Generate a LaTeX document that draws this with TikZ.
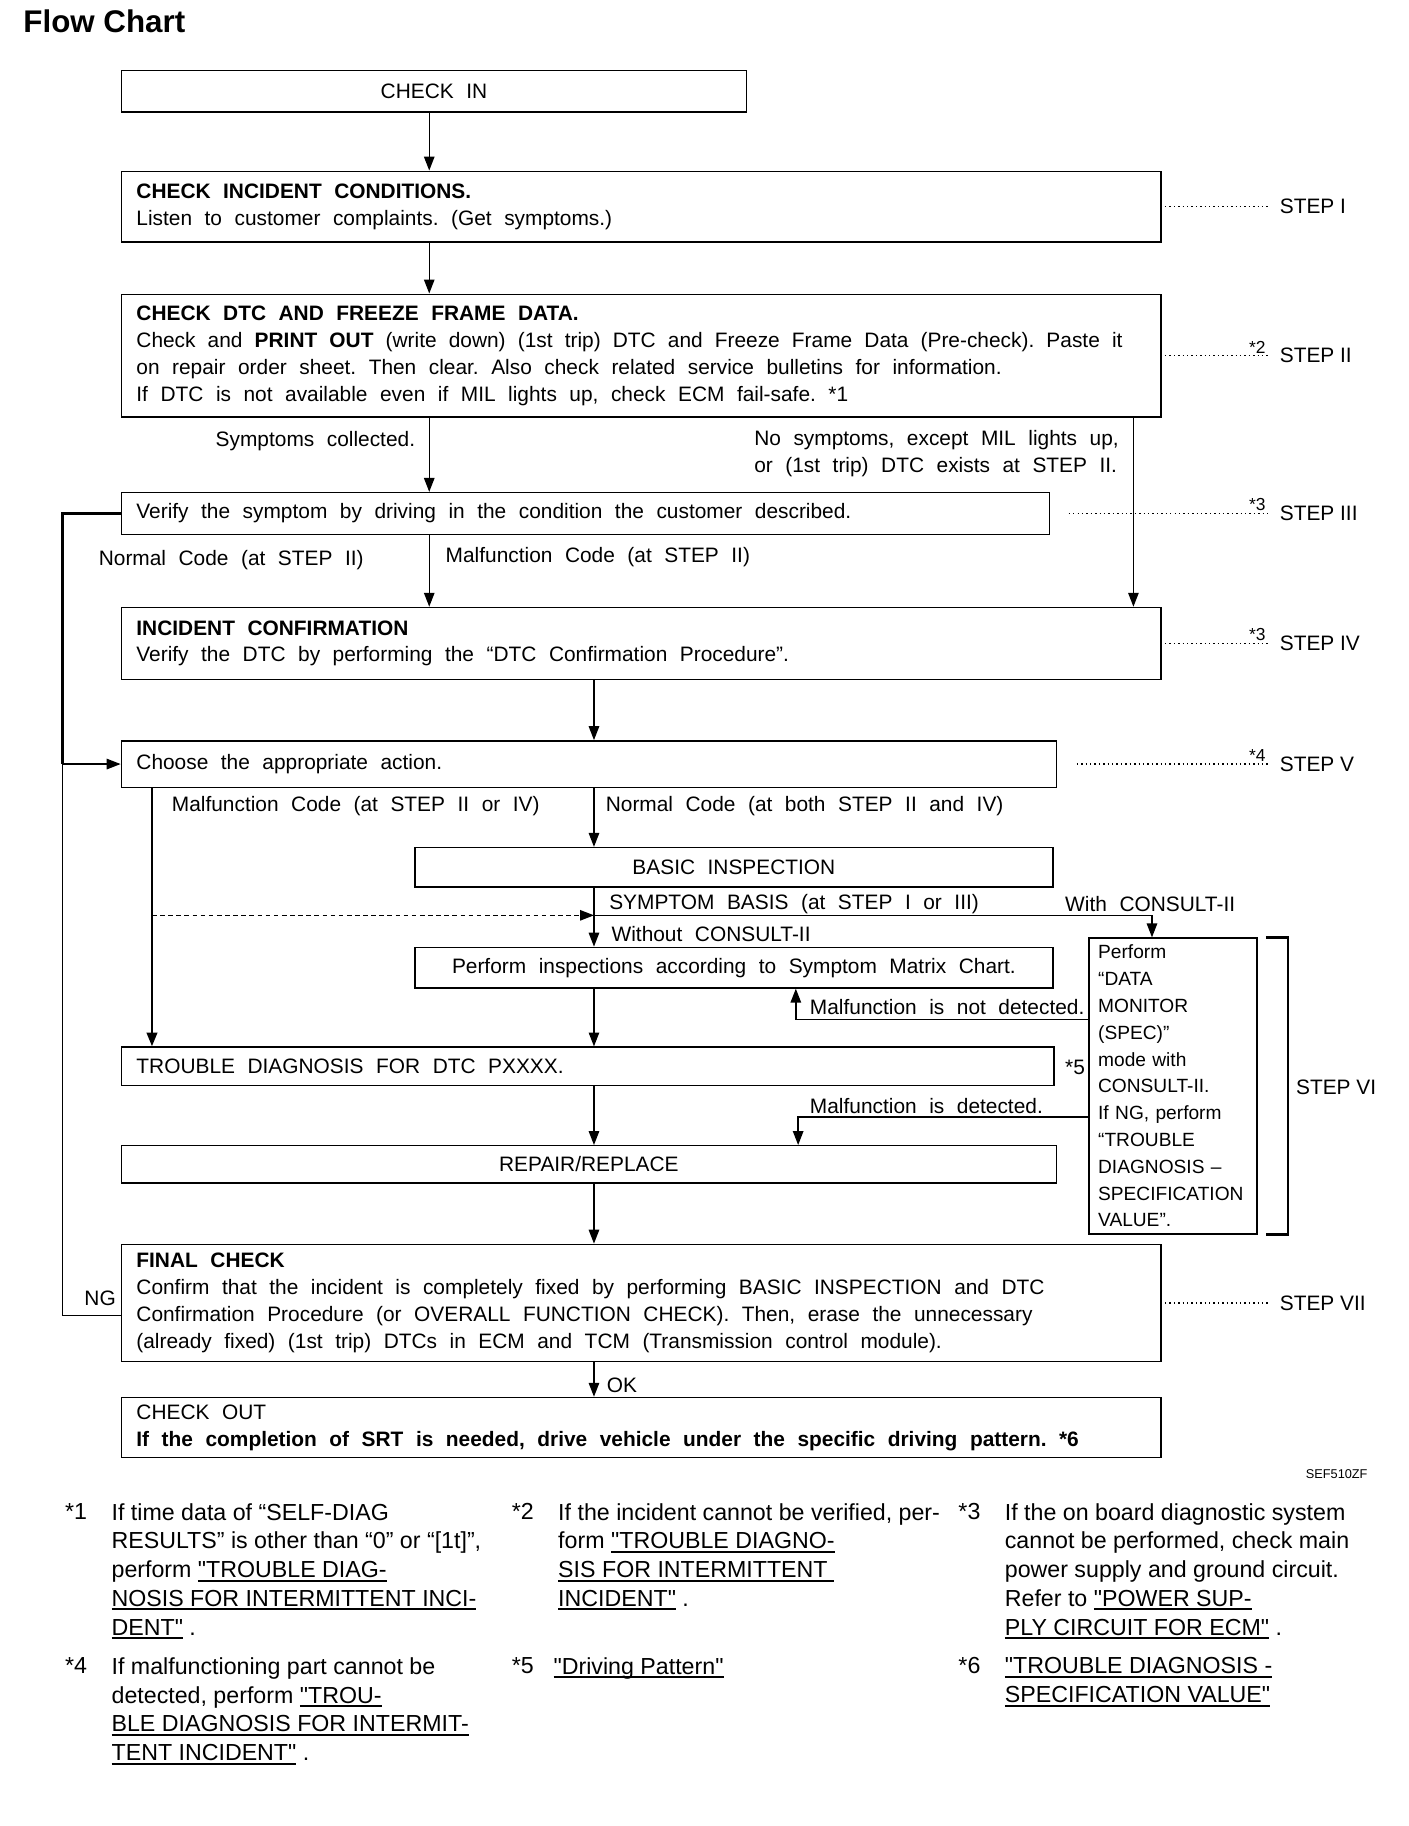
\documentclass[tikz,border=0pt]{standalone}
\usepackage{fontspec}
\setmainfont{Liberation Sans}
\newfontfamily\notefam{Liberation Sans}
\usetikzlibrary{arrows.meta}
\frenchspacing
\newcommand\fcfont{\fontsize{18}{23.2}\selectfont}
\newcommand\csfont{\notefam\fontsize{16.5}{23.1}\selectfont}
\newcommand\ntfont{\notefam\fontsize{20}{24.8}\selectfont}
\newcommand\widespace{\spaceskip=.6em\xspaceskip=\spaceskip}
\newsavebox\lnkbox
\newcommand\lnk[1]{\sbox\lnkbox{#1}\rlap{\rule[-3.5pt]{\wd\lnkbox}{1.7pt}}\usebox\lnkbox}

\begin{document}
\begin{tikzpicture}[x=1pt,y=-1pt,
  frame/.style={draw, line width=1.2pt, anchor=north west, inner xsep=13pt, inner ysep=0pt, align=left, font=\fcfont},
  box/.style={frame, execute at begin node=\widespace},
  lab/.style={inner sep=0pt, yshift=-3pt, font=\fcfont, execute at begin node=\widespace},
  arr/.style={line width=1.2pt, -{Triangle[length=12pt,width=9pt]}},
  leader/.style={line width=1pt, dash pattern=on 1.2pt off 2.6pt},
  steplab/.style={anchor=west, inner xsep=10pt, inner ysep=0pt, font=\fcfont},
  notemark/.style={anchor=south east, inner sep=0pt, font=\notefam\fontsize{15}{15}\selectfont},
  note/.style={anchor=north west, inner sep=0pt, align=left, font=\ntfont}]
\useasboundingbox (0,0) rectangle (1214,1574);
\coordinate (xa) at (370,0);
\coordinate (xb) at (977,0);
\coordinate (xc) at (512,0);
\coordinate (xd) at (131,0);
\coordinate (xe) at (54,0);
\coordinate (xf) at (993,0);
\coordinate (xg) at (686,0);
\coordinate (xh) at (688,0);
\coordinate (xs) at (1093,0);
\coordinate (yb) at (0,789);
\coordinate (yn) at (0,879);
\coordinate (yd) at (0,963);
\coordinate (yng) at (0,1134);

\node[inner sep=0pt, anchor=west, font=\notefam\bfseries\fontsize{27}{27}\selectfont] (title) at (20,18) {Flow Chart};

\node[box, minimum width=539, minimum height=36, text width=513, align=center] (cin) at (104,60) {CHECK IN};
\node[box, minimum width=896, minimum height=61, text width=870] (s1) at (104,147) {\textbf{CHECK INCIDENT CONDITIONS.}\\Listen to customer complaints. (Get symptoms.)};
\node[box, minimum width=896, minimum height=106, text width=870] (s2) at (104,253) {\textbf{CHECK DTC AND FREEZE FRAME DATA.}\\\makebox[850pt][s]{\spaceskip=.6em plus .4em minus .1em Check and \textbf{PRINT OUT} (write down) (1st trip) DTC and Freeze Frame Data (Pre-check). Paste it}\\on repair order sheet. Then clear. Also check related service bulletins for information.\\If DTC is not available even if MIL lights up, check ECM fail-safe. *1};
\node[box, minimum width=800, minimum height=36, text width=774] (s3) at (104,424) {Verify the symptom by driving in the condition the customer described.};
\node[box, minimum width=896, minimum height=62, text width=870] (s4) at (104,523) {\textbf{INCIDENT CONFIRMATION}\\Verify the DTC by performing the “DTC Confirmation Procedure”.};
\node[box, minimum width=806, minimum height=40, text width=780] (s5) at (104,638) {Choose the appropriate action.};
\node[box, minimum width=550, minimum height=34, text width=524, align=center] (bi) at (357,730) {BASIC INSPECTION};
\node[box, minimum width=550, minimum height=35, text width=524, align=center] (pi) at (357,816) {Perform inspections according to Symptom Matrix Chart.};
\node[box, minimum width=804, minimum height=33, text width=778] (td) at (104,902) {TROUBLE DIAGNOSIS FOR DTC PXXXX.};
\node[box, minimum width=806, minimum height=32, text width=780, align=center] (rr) at (104,987) {REPAIR/REPLACE};
\node[frame, minimum width=145, minimum height=255, text width=129, inner xsep=8pt, font=\csfont] (cs) at (938,808) {Perform\\“DATA\\MONITOR\\(SPEC)”\\mode with\\CONSULT-II.\\If NG, perform\\“TROUBLE\\DIAGNOSIS –\\SPECIFICATION\\VALUE”.};
\node[box, minimum width=896, minimum height=101, text width=870] (fc) at (104,1072) {\textbf{FINAL CHECK}\\Confirm that the incident is completely fixed by performing BASIC INSPECTION and DTC\\Confirmation Procedure (or OVERALL FUNCTION CHECK). Then, erase the unnecessary\\(already fixed) (1st trip) DTCs in ECM and TCM (Transmission control module).};
\node[box, minimum width=896, minimum height=52, text width=870] (co) at (104,1204) {CHECK OUT\\\textbf{If the completion of SRT is needed, drive vehicle under the specific driving pattern. *6}};

\node[lab, anchor=east] (lsc) at (358,377) {Symptoms collected.};
\node[lab, anchor=west, align=left] (lns) at (650,388) {No symptoms, except MIL lights up,\\or (1st trip) DTC exists at STEP II.};
\node[lab, anchor=west] (lnc) at (85,480) {Normal Code (at STEP II)};
\node[lab, anchor=west] (lmc) at (384,477) {Malfunction Code (at STEP II)};
\node[lab, anchor=west] (lmc2) at (148,692) {Malfunction Code (at STEP II or IV)};
\node[lab, anchor=west] (lnc2) at (522,692) {Normal Code (at both STEP II and IV)};
\node[lab, anchor=west] (lsb) at (525,776) {SYMPTOM BASIS (at STEP I or III)};
\node[lab, anchor=west] (lwo) at (527,802) {Without CONSULT-II};
\node[lab, anchor=west] (lwi) at (918,776) {With CONSULT-II};
\node[lab, anchor=west] (lnd) at (698,865) {Malfunction is not detected.};
\node[lab, anchor=west] (ld) at (698,950) {Malfunction is detected.};
\node[lab, anchor=west] (m5) at (918,917) {*5};
\node[lab, anchor=east] (lng) at (100,1116) {NG};
\node[lab, anchor=west] (lok) at (523,1191) {OK};
\node[lab, anchor=east, font=\notefam\fontsize{11}{11}\selectfont] (ref) at (1179,1268) {SEF510ZF};

\foreach \b/\s/\d in {s1/I/3, s2/II/3, s3/III/16, s4/IV/3, s5/V/17, fc/VII/3} {
 \node[steplab] (st\s) at (\b.east -| xs) {STEP \s};
 \draw[leader] ([xshift=\d]\b.east) -- (st\s.west);
}
\foreach \s/\m in {II/2, III/3, IV/3, V/4}
 \node[notemark] (m\s) at ([xshift=-2,yshift=2]st\s.west) {*\m};
\node[steplab, inner xsep=0pt] (stVI) at (1117,937) {STEP VI};
\draw[line width=2pt] ([xshift=7]cs.north east) -- ++(19,0) |- ([xshift=7]cs.south east);

\draw[arr] (cin.south -| xa) -- (s1.north -| xa);
\draw[arr] (s1.south -| xa) -- (s2.north -| xa);
\draw[arr] (s2.south -| xa) -- (s3.north -| xa);
\draw[arr] (s2.south -| xb) -- (s4.north -| xb);
\draw[arr] (s3.south -| xa) -- (s4.north -| xa);
\draw[arr] (s4.south -| xc) -- (s5.north -| xc);
\draw[arr, line width=2.4pt] (s5.south -| xd) -- (td.north -| xd);
\draw[arr] (s5.south -| xc) -- (bi.north -| xc);
\draw[arr] (bi.south -| xc) -- (pi.north -| xc);
\draw[arr] (xc |- yb) -| (cs.north -| xf);
\draw[arr, dash pattern=on 4pt off 3pt] (xd |- yb) -- (xc |- yb);
\draw[arr] (pi.south -| xc) -- (td.north -| xc);
\draw[arr] (cs.west |- yn) -| (pi.south -| xg);
\draw[arr] (td.south -| xc) -- (rr.north -| xc);
\draw[arr] (cs.west |- yd) -| (rr.north -| xh);
\draw[arr] (rr.south -| xc) -- (fc.north -| xc);
\draw[arr] (fc.south -| xc) -- (co.north -| xc);

\draw[line width=2.4pt] (s3.west) -- (s3.west -| xe) -- (s5.west -| xe);
\draw[line width=1.3pt] (s5.west -| xe) -- (xe |- yng) -- (fc.west |- yng);
\draw[arr] (s5.west -| xe) -- (s5.west);

\node[note] (n1) at (56,1295.6) {*1};
\node[note] (t1) at (96,1295.6) {If time data of “SELF-DIAG\\RESULTS” is other than “0” or “[1t]”,\\perform \lnk{"TROUBLE DIAG-}\\\lnk{NOSIS FOR INTERMITTENT INCI-}\\\lnk{DENT"} .};
\node[note] (n2) at (441,1295.6) {*2};
\node[note] (t2) at (481,1295.6) {If the incident cannot be verified, per-\\form \lnk{"TROUBLE DIAGNO-}\\\lnk{SIS FOR INTERMITTENT\ }\\\lnk{INCIDENT"} .};
\node[note] (n3) at (826,1295.6) {*3};
\node[note] (t3) at (866,1295.6) {If the on board diagnostic system\\cannot be performed, check main\\power supply and ground circuit.\\Refer to \lnk{"POWER SUP-}\\\lnk{PLY CIRCUIT FOR ECM"} .};
\node[note] (n4) at (56,1428.6) {*4};
\node[note] (t4) at (96,1428.6) {If malfunctioning part cannot be\\detected, perform \lnk{"TROU-}\\\lnk{BLE DIAGNOSIS FOR INTERMIT-}\\\lnk{TENT INCIDENT"} .};
\node[note] (n5) at (441,1428.6) {*5};
\node[note] (t5) at (477,1428.6) {\lnk{"Driving Pattern"}};
\node[note] (n6) at (826,1428.6) {*6};
\node[note] (t6) at (866,1428.6) {\lnk{"TROUBLE DIAGNOSIS -}\\\lnk{SPECIFICATION VALUE"}};
\end{tikzpicture}
\end{document}
